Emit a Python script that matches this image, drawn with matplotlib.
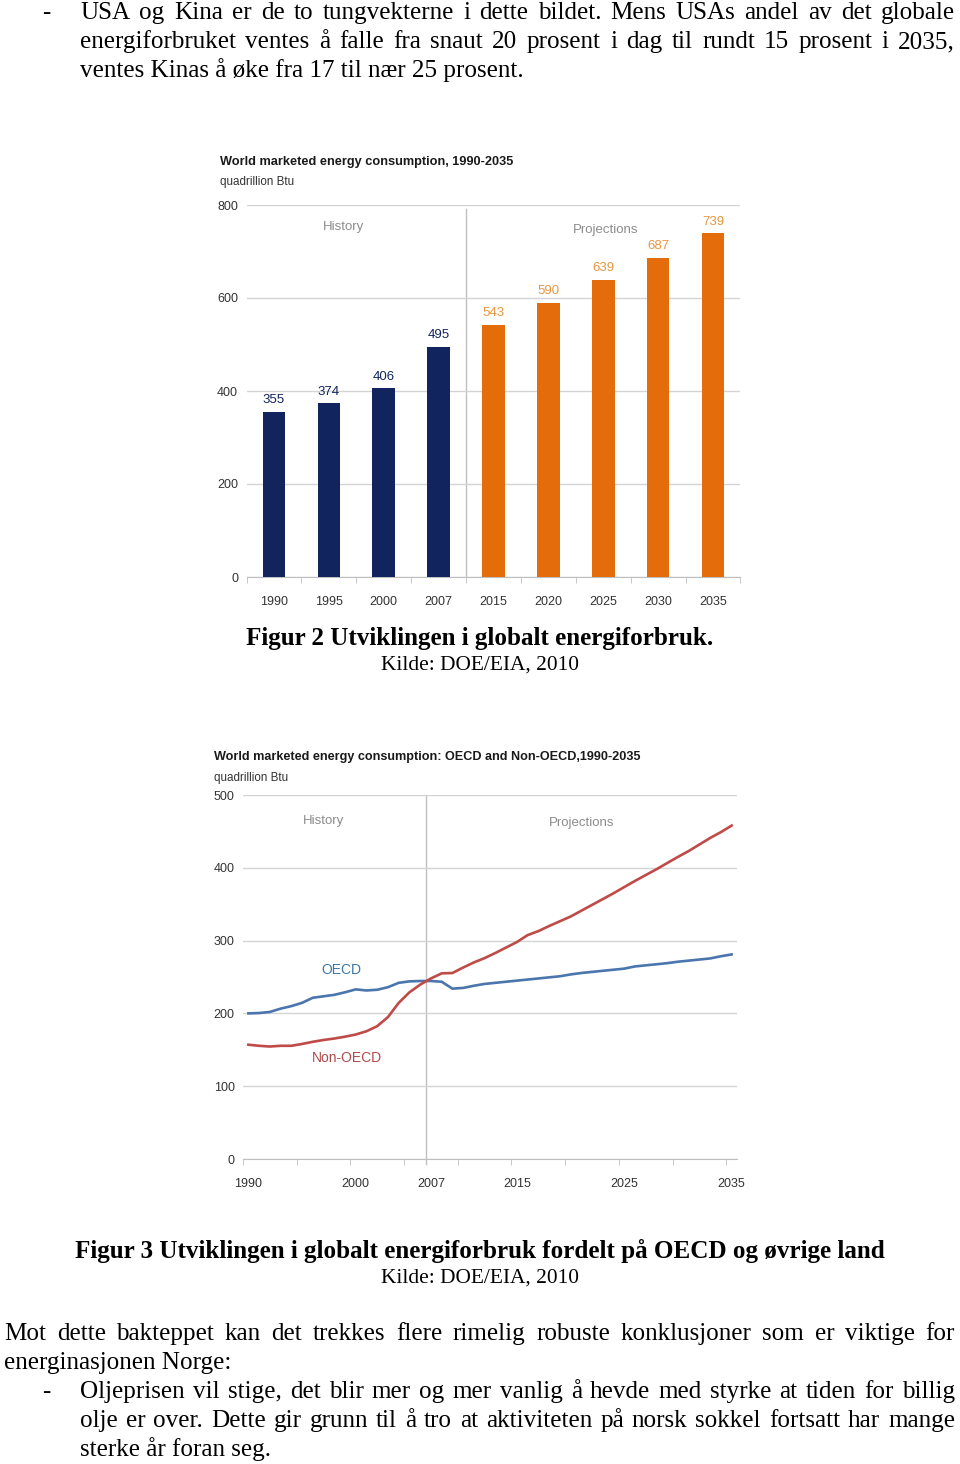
import matplotlib
matplotlib.use('Agg')
import matplotlib.pyplot as plt

W, H = 960, 1464
SERIF = ['Liberation Serif', 'DejaVu Serif']
NARROW = ['Liberation Sans Narrow', 'Liberation Sans', 'DejaVu Sans']

# --- data: figure 2 (bars)
bar_years = ['1990', '1995', '2000', '2007', '2015', '2020', '2025', '2030', '2035']
bar_values = [355, 374, 406, 495, 543, 590, 639, 687, 739]
n_history = 4

# --- data: figure 3 (lines), yearly 1990-2035
line_years = list(range(1990, 2036))
oecd = [200, 200.5, 202, 206.5, 210, 214.5, 221.5, 223.5, 225.5, 229,
        233, 231.5, 232.5, 236, 242, 244, 244.5, 244.5, 243.5, 234,
        235, 238, 240.5, 242, 243.5, 245, 246.5, 248, 249.5, 251,
        253.5, 255.5, 257, 258.5, 260, 261.5, 264.5, 266, 267.5, 269,
        271, 272.5, 274, 275.5, 278.5, 281]
non_oecd = [157, 155.5, 154.5, 155.5, 155.5, 158, 161, 163.5, 165.5, 168,
            171, 175.5, 182.5, 195, 214.5, 229, 239.5, 248, 255, 255.5,
            263, 270, 276, 283, 290.5, 298, 307.5, 313, 320, 326.5,
            333, 341, 349, 357, 365, 373.5, 382, 390, 398, 406.5,
            415, 423, 432, 441, 449, 458]
line_ticklabels = [1990, 2000, 2007, 2015, 2025, 2035]

NAVY = '#11245e'
ORANGE = '#e46c0a'
ORANGE_TXT = '#e8963f'
BLUE = '#4a76ad'
RED = '#be4b48'
GRID = '#d4d4d4'
GRAYTXT = '#8c8c8c'
TICKTXT = '#333333'

fig = plt.figure(figsize=(W / 100, H / 100), dpi=100)
fig.patch.set_facecolor('white')
r = fig.canvas.get_renderer()


def px(x, y):
    return x / W, 1 - y / H


def width_of(t):
    return t.get_window_extent(r).width


def justify(line, x0, x1, y, size, weight='normal'):
    words = line.split()
    ts = [fig.text(0, 1 - y / H, w, fontsize=size, family=SERIF, weight=weight,
                   va='baseline') for w in words]
    ws = [width_of(t) for t in ts]
    gap = (x1 - x0 - sum(ws)) / max(len(words) - 1, 1)
    x = x0
    for t, w in zip(ts, ws):
        t.set_x(x / W)
        x += w + gap


def plain(s, x, y, size, ha='left', weight='normal'):
    return fig.text(*px(x, y), s, fontsize=size, family=SERIF, weight=weight,
                    ha=ha, va='baseline')


def fit(s, x, y, width, **kw):
    # chart text in the reference is condensed, so size it by its width
    t = fig.text(*px(x, y), s, fontsize=10, family=NARROW, va='baseline', **kw)
    t.set_fontsize(10 * width / width_of(t))
    return t


# body font size: fit the short line to its width in the page
probe = plain('ventes Kinas å øke fra 17 til nær 25 prosent.', 80, 77, 10)
fs = 10 * 444 / width_of(probe)
probe.set_fontsize(fs)

plain('-', 42, 19, fs)
justify('USA og Kina er de to tungvekterne i dette bildet. Mens USAs andel av det globale', 80, 955, 19, fs)
justify('energiforbruket ventes å falle fra snaut 20 prosent i dag til rundt 15 prosent i 2035,', 80, 955, 48, fs)


def style_axes(ax):
    for lab in ax.get_xticklabels() + ax.get_yticklabels():
        lab.set_family(NARROW)
        lab.set_fontsize(9)
        lab.set_color(TICKTXT)
    for s in ['top', 'right', 'left']:
        ax.spines[s].set_visible(False)
    ax.spines['bottom'].set_color('#bfbfbf')
    ax.tick_params(axis='x', which='major', length=0, pad=14)
    ax.tick_params(axis='x', which='minor', length=4, color='#bfbfbf')
    ax.tick_params(axis='y', length=0, pad=6)


# ---------------- figure 2: bar chart
ax1 = fig.add_axes([246.5 / W, 1 - 577 / H, 494 / W, 372 / H])
xs = list(range(len(bar_years)))
colors = [NAVY] * n_history + [ORANGE] * (len(bar_years) - n_history)
ax1.bar(xs, bar_values, width=0.41, color=colors, zorder=3)
for i, v in enumerate(bar_values):
    ax1.annotate(str(v), (i, v), xytext=(0, 4), textcoords='offset points',
                 ha='center', va='bottom', fontsize=9.5, family=NARROW,
                 color=NAVY if i < n_history else ORANGE_TXT)
ax1.set_xlim(-0.5, len(bar_years) - 0.5)
ax1.set_ylim(0, 800)
ax1.set_yticks([0, 200, 400, 600, 800])
ax1.yaxis.grid(True, color=GRID, lw=1, zorder=0)
ax1.set_xticks(xs)
ax1.set_xticklabels(bar_years)
ax1.set_xticks([i - 0.5 for i in range(len(bar_years) + 1)], minor=True)
style_axes(ax1)
ax1.axvline(n_history - 0.5, ymax=0.99, color='#bfbfbf', lw=1, zorder=1)
ax1.text(1.27, 752, 'History', ha='center', va='center', fontsize=9.5,
         family=NARROW, color=GRAYTXT)
ax1.text(6.05, 746, 'Projections', ha='center', va='center', fontsize=9.5,
         family=NARROW, color=GRAYTXT)
fit('World marketed energy consumption, 1990-2035', 220, 165, 295,
    weight='bold', color='#1a1a1a')
fit('quadrillion Btu', 220, 185, 74, color=TICKTXT)

plain('Figur 2 Utviklingen i globalt energiforbruk.', 480, 645, fs, ha='center',
      weight='bold')
plain('Kilde: DOE/EIA, 2010', 480, 670, fs * 0.85, ha='center')

# ---------------- figure 3: line chart
ax2 = fig.add_axes([243 / W, 1 - 1159 / H, 494 / W, 364 / H])
ax2.plot(line_years, oecd, color=BLUE, lw=1.9, zorder=3)
ax2.plot(line_years, non_oecd, color=RED, lw=1.9, zorder=3)
ax2.set_xlim(1989.5, 2035.5)
ax2.set_ylim(0, 500)
ax2.set_yticks([0, 100, 200, 300, 400, 500])
ax2.yaxis.grid(True, color=GRID, lw=1, zorder=0)
ax2.set_xticks(line_ticklabels)
ax2.set_xticks([1989.5 + 5 * k for k in range(10)], minor=True)
style_axes(ax2)
ax2.axvline(2006.5, ymin=-0.015, color='#bfbfbf', lw=1, zorder=1, clip_on=False)
ax2.text(1997, 464, 'History', ha='center', va='center', fontsize=9.5,
         family=NARROW, color=GRAYTXT)
ax2.text(2021, 461, 'Projections', ha='center', va='center', fontsize=9.5,
         family=NARROW, color=GRAYTXT)
ax2.text(1998.7, 260, 'OECD', ha='center', va='center', fontsize=10,
         family=NARROW, color='#3a78a8')
ax2.text(1999.2, 139, 'Non-OECD', ha='center', va='center', fontsize=10,
         family=NARROW, color='#b04a4a')
fit('World marketed energy consumption: OECD and Non-OECD,1990-2035', 214, 760,
    426, weight='bold', color='#1a1a1a')
fit('quadrillion Btu', 214, 781, 74, color=TICKTXT)

plain('Figur 3 Utviklingen i globalt energiforbruk fordelt på OECD og øvrige land',
      480, 1258, fs, ha='center', weight='bold')
plain('Kilde: DOE/EIA, 2010', 480, 1283, fs * 0.85, ha='center')

justify('Mot dette bakteppet kan det trekkes flere rimelig robuste konklusjoner som er viktige for',
        4, 955, 1340, fs)
plain('energinasjonen Norge:', 4, 1369, fs)
plain('-', 42, 1398, fs)
justify('Oljeprisen vil stige, det blir mer og mer vanlig å hevde med styrke at tiden for billig',
        80, 955, 1398, fs)
justify('olje er over. Dette gir grunn til å tro at aktiviteten på norsk sokkel fortsatt har mange',
        80, 955, 1427, fs)
plain('sterke år foran seg.', 80, 1456, fs)

fig.savefig('out.png', dpi=100, facecolor='white')
